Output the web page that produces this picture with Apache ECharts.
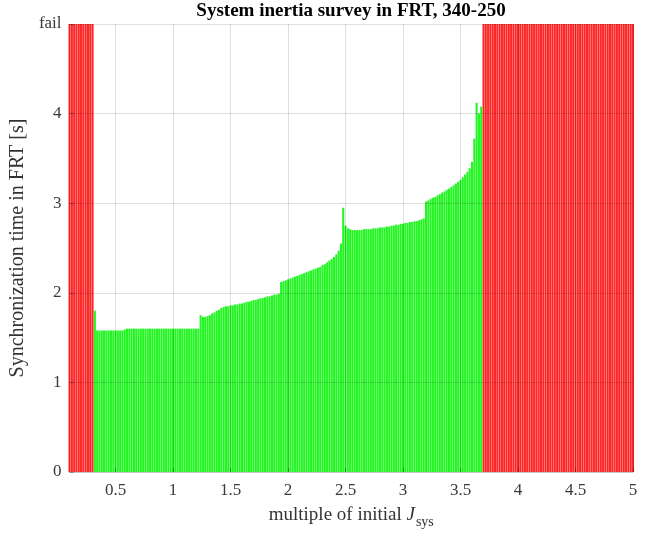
<!DOCTYPE html>
<html>
<head>
<meta charset="utf-8">
<script src="https://cdn.jsdelivr.net/npm/echarts@6/dist/echarts.min.js"></script>
<style>html,body{margin:0;padding:0;background:#fff;}#chart{width:656px;height:535px;}</style>
</head>
<body>
<div id="chart"></div>
<script>
// ---- data ----
const FAIL = 5; // value used for "fail"
const yTickLabels = ['0', '1', '2', '3', '4', 'fail'];
const xTickValues = [0.5, 1, 1.5, 2, 2.5, 3, 3.5, 4, 4.5, 5];

const failXLow = [0.10,0.12,0.14,0.16,0.18,0.20,0.22,0.24,0.26,0.28,0.30];
const failXHigh = [3.70,3.72,3.74,3.76,3.78,3.80,3.82,3.84,3.86,3.88,3.90,3.92,3.94,3.96,3.98,
  4.00,4.02,4.04,4.06,4.08,4.10,4.12,4.14,4.16,4.18,4.20,4.22,4.24,4.26,4.28,4.30,4.32,4.34,4.36,4.38,
  4.40,4.42,4.44,4.46,4.48,4.50,4.52,4.54,4.56,4.58,4.60,4.62,4.64,4.66,4.68,4.70,4.72,4.74,4.76,4.78,
  4.80,4.82,4.84,4.86,4.88,4.90,4.92,4.94,4.96,4.98,5.00];

const okX = [0.32,0.34,0.36,0.38,0.40,0.42,0.44,0.46,0.48,0.50,0.52,0.54,0.56,0.58,
  0.60,0.62,0.64,0.66,0.68,0.70,0.72,0.74,0.76,0.78,0.80,0.82,0.84,0.86,0.88,0.90,
  0.92,0.94,0.96,0.98,1.00,1.02,1.04,1.06,1.08,1.10,1.12,1.14,1.16,1.18,1.20,1.22,
  1.24,1.26,1.28,1.30,1.32,1.34,1.36,1.38,1.40,1.42,1.44,1.46,1.48,1.50,
  1.52,1.54,1.56,1.58,1.60,1.62,1.64,1.66,1.68,1.70,1.72,1.74,1.76,1.78,1.80,
  1.82,1.84,1.86,1.88,1.90,1.92,
  1.94,1.96,1.98,2.00,2.02,2.04,2.06,2.08,2.10,2.12,2.14,2.16,2.18,2.20,2.22,2.24,
  2.26,2.28,2.30,2.32,2.34,2.36,2.38,2.40,2.42,2.44,2.46,2.48,
  2.50,2.52,2.54,2.56,2.58,2.60,2.62,2.64,2.66,2.68,2.70,2.72,2.74,2.76,2.78,2.80,
  2.82,2.84,2.86,2.88,2.90,2.92,2.94,2.96,2.98,3.00,3.02,3.04,3.06,3.08,3.10,3.12,
  3.14,3.16,3.18,
  3.20,3.22,3.24,3.26,3.28,3.30,3.32,3.34,3.36,3.38,3.40,3.42,3.44,3.46,3.48,3.50,
  3.52,3.54,3.56,3.58,3.60,3.62,3.64,3.66,3.68];
const okY = [1.80,1.58,1.58,1.58,1.58,1.58,1.58,1.58,1.58,1.58,1.58,1.58,1.58,1.59,
  1.60,1.60,1.60,1.60,1.60,1.60,1.60,1.60,1.60,1.60,1.60,1.60,1.60,1.60,1.60,1.60,
  1.60,1.60,1.60,1.60,1.60,1.60,1.60,1.60,1.60,1.60,1.60,1.60,1.60,1.60,1.60,1.60,
  1.75,1.73,1.73,1.74,1.75,1.77,1.78,1.80,1.81,1.83,1.84,1.85,1.85,1.86,
  1.86,1.87,1.87,1.88,1.88,1.89,1.90,1.90,1.91,1.92,1.92,1.93,1.94,1.94,1.95,
  1.96,1.96,1.97,1.98,1.98,1.99,
  2.12,2.13,2.14,2.15,2.16,2.17,2.18,2.19,2.20,2.21,2.22,2.23,2.24,2.25,2.26,2.27,
  2.28,2.29,2.31,2.32,2.34,2.36,2.38,2.40,2.43,2.47,2.55,2.95,
  2.75,2.72,2.71,2.70,2.70,2.70,2.70,2.70,2.71,2.71,2.71,2.71,2.72,2.72,2.72,2.73,
  2.73,2.73,2.74,2.74,2.75,2.75,2.76,2.76,2.77,2.77,2.78,2.78,2.79,2.79,2.80,2.80,
  2.81,2.82,2.83,
  3.02,3.03,3.05,3.06,3.07,3.09,3.10,3.12,3.13,3.15,3.16,3.18,3.20,3.22,3.24,3.26,
  3.29,3.32,3.35,3.39,3.46,3.72,4.12,4.00,4.08];

// ---- chart ----
const serif = '"Liberation Serif", "DejaVu Serif", serif';
const failData = failXLow.concat(failXHigh).map(x => [x, FAIL]);
const okData = okX.map((x, i) => [x, okY[i]]);

const chart = echarts.init(document.getElementById('chart'), null, {renderer: 'canvas'});
chart.setOption({
  animation: false,
  backgroundColor: '#ffffff',
  title: {
    text: 'System inertia survey in FRT, 340-250',
    left: 351, top: 2, textAlign: 'center', padding: 0,
    textStyle: {fontFamily: serif, fontSize: 19, fontWeight: 'bold', color: '#000'}
  },
  grid: {left: 68, right: 23, top: 24, bottom: 63, containLabel: false},
  xAxis: {
    type: 'value', min: 0.1, max: 5, z: 5,
    name: '{a|multiple of initial }{j|J}{s|sys}',
    nameLocation: 'middle', nameGap: 29,
    nameTextStyle: {
      rich: {
        a: {fontFamily: serif, fontSize: 19, color: '#333'},
        j: {fontFamily: serif, fontSize: 19, fontStyle: 'italic', color: '#333'},
        s: {fontFamily: serif, fontSize: 14, color: '#333', padding: [14, 0, 0, 1]}
      }
    },
    axisLine: {show: true, lineStyle: {color: 'rgba(0,0,0,0.12)', width: 1}},
    axisTick: {show: true, inside: true, length: 4, customValues: xTickValues, lineStyle: {color: 'rgba(0,0,0,0.3)'}},
    axisLabel: {customValues: xTickValues, fontFamily: serif, fontSize: 17, color: '#3a3a3a', margin: 10,
      formatter: v => String(+v.toFixed(1))},
    splitLine: {show: true, lineStyle: {color: 'rgba(0,0,0,0.12)', width: 1}}
  },
  yAxis: {
    type: 'value', min: 0, max: 5, interval: 1, z: 5,
    name: 'Synchronization time in FRT [s]',
    nameLocation: 'middle', nameGap: 36,
    nameTextStyle: {fontFamily: serif, fontSize: 20, color: '#333'},
    axisLine: {show: true, lineStyle: {color: 'rgba(0,0,0,0.12)', width: 1}},
    axisTick: {show: true, inside: true, length: 4, lineStyle: {color: 'rgba(0,0,0,0.3)'}},
    axisLabel: {fontFamily: serif, fontSize: 17, color: '#3a3a3a', margin: 8,
      formatter: v => yTickLabels[Math.round(v)]},
    splitLine: {show: true, lineStyle: {color: 'rgba(0,0,0,0.12)', width: 1}}
  },
  series: [
    {
      name: 'fail', type: 'bar', data: failData, barWidth: '90%', barGap: '-100%',
      itemStyle: {color: '#fe2626'}, z: 2, clip: true
    },
    {
      name: 'ok', type: 'bar', data: okData, barWidth: '90%', barGap: '-100%',
      itemStyle: {color: '#22f522'}, z: 2, clip: true
    }
  ]
});
</script>
</body>
</html>
